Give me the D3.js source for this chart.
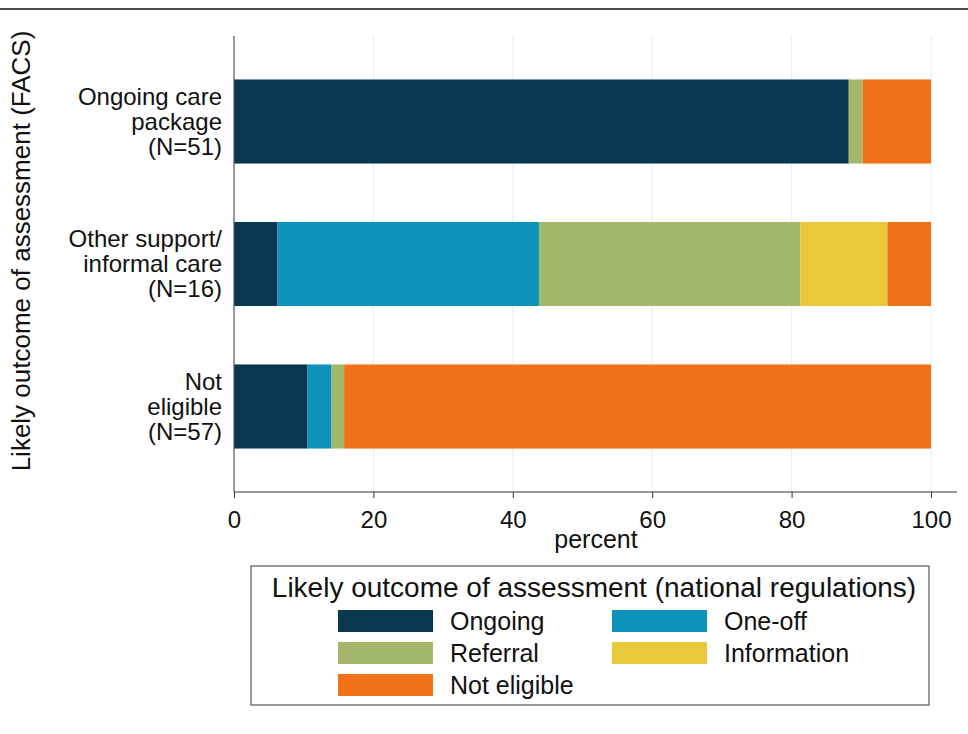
<!DOCTYPE html>
<html>
<head>
<meta charset="utf-8">
<script src="https://cdn.jsdelivr.net/npm/d3@7"></script>
<style>
  body { margin: 0; background: #fff; }
  svg { font-family: "Liberation Sans", Arial, sans-serif; }
</style>
</head>
<body>
<svg id="chart" width="968" height="734"></svg>
<script>
// categories (top to bottom) with their label lines
const categories = ["Ongoing care package", "Other support/informal care", "Not eligible"];
const categoryLines = [
    ["Ongoing care", "package", "(N=51)"],
    ["Other support/", "informal care", "(N=16)"],
    ["Not", "eligible", "(N=57)"]
];
const outcomes = ["Ongoing", "One-off", "Referral", "Information", "Not eligible"];
const outcomeColors = ["#08374f", "#0e93ba", "#a3b86a", "#e9c939", "#f07118"];

// percent per outcome, one array per category
const ongoing     = [88.2, 6.25, 10.5];
const oneOff      = [0, 37.5, 3.5];
const referral    = [2.0, 37.5, 1.8];
const information = [0, 12.5, 0];
const notEligible = [9.8, 6.25, 84.2];

const xTicks = [0, 20, 40, 60, 80, 100];

const svg = d3.select("#chart");
const margin = { top: 36, right: 37, bottom: 242, left: 234 };
const width = 968, height = 734;

// top rule
svg.append("line")
    .attr("x1", 0).attr("x2", width)
    .attr("y1", 9).attr("y2", 9)
    .attr("stroke", "#111").attr("stroke-width", 1.5);

const x = d3.scaleLinear()
    .domain([0, 100])
    .range([margin.left, 931]);

const y = d3.scaleBand()
    .domain(categories)
    .range([margin.top, height - margin.bottom])
    .paddingInner(0.41)
    .paddingOuter(0.305);

const rows = categories.map((c, i) => ({
    category: c,
    "Ongoing": ongoing[i],
    "One-off": oneOff[i],
    "Referral": referral[i],
    "Information": information[i],
    "Not eligible": notEligible[i]
}));

const stack = d3.stack().keys(outcomes)(rows);
const color = d3.scaleOrdinal().domain(outcomes).range(outcomeColors);

// gridlines
svg.append("g")
    .selectAll("line")
    .data(xTicks.filter(d => d > 0))
    .join("line")
    .attr("x1", d => x(d)).attr("x2", d => x(d))
    .attr("y1", margin.top).attr("y2", height - margin.bottom)
    .attr("stroke", "#e4eef2").attr("stroke-width", 1);

// bars
svg.append("g")
    .selectAll("g")
    .data(stack)
    .join("g")
    .attr("fill", d => color(d.key))
    .selectAll("rect")
    .data(d => d)
    .join("rect")
    .attr("x", d => x(d[0]))
    .attr("y", d => y(d.data.category))
    .attr("width", d => x(d[1]) - x(d[0]))
    .attr("height", y.bandwidth());

// x axis
const xAxis = svg.append("g")
    .attr("transform", `translate(0,${height - margin.bottom})`)
    .call(d3.axisBottom(x).tickValues(xTicks).tickSize(6).tickSizeOuter(0));
xAxis.select(".domain").attr("stroke", "#333").attr("d", `M${margin.left},0H957`);
xAxis.selectAll(".tick line").attr("stroke", "#333");
xAxis.selectAll(".tick text")
    .attr("y", 36).attr("dy", 0)
    .attr("font-size", 24)
    .attr("font-family", "Liberation Sans, Arial, sans-serif")
    .attr("fill", "#111");

svg.append("text")
    .attr("x", 596).attr("y", 548)
    .attr("text-anchor", "middle")
    .attr("font-size", 25)
    .attr("fill", "#111")
    .text("percent");

// y axis
svg.append("line")
    .attr("x1", margin.left).attr("x2", margin.left)
    .attr("y1", margin.top).attr("y2", height - margin.bottom)
    .attr("stroke", "#555").attr("stroke-width", 1.2);

const yLabels = svg.append("g")
    .selectAll("text")
    .data(categories)
    .join("text")
    .attr("text-anchor", "end")
    .attr("font-size", 24)
    .attr("fill", "#111");
yLabels.each(function(d, i) {
    const cy = y(d) + y.bandwidth() / 2;
    d3.select(this).selectAll("tspan")
        .data(categoryLines[i])
        .join("tspan")
        .attr("x", 222)
        .attr("y", (t, j) => cy + (j - 1) * 25 + 8)
        .text(t => t);
});

svg.append("text")
    .attr("transform", "translate(30,251) rotate(-90)")
    .attr("text-anchor", "middle")
    .attr("font-size", 26)
    .attr("fill", "#111")
    .text("Likely outcome of assessment (FACS)");

// legend
const legend = svg.append("g");
legend.append("rect")
    .attr("x", 251).attr("y", 566)
    .attr("width", 678).attr("height", 139)
    .attr("fill", "#fff").attr("stroke", "#555").attr("stroke-width", 1.2);
legend.append("text")
    .attr("x", 594).attr("y", 597)
    .attr("text-anchor", "middle")
    .attr("font-size", 28)
    .attr("fill", "#111")
    .text("Likely outcome of assessment (national regulations)");

const legendItems = legend.selectAll("g.item")
    .data(outcomes)
    .join("g")
    .attr("class", "item")
    .attr("transform", (d, i) => `translate(${i % 2 === 0 ? 338 : 612},${610 + Math.floor(i / 2) * 32})`);
legendItems.append("rect")
    .attr("width", 95).attr("height", 22)
    .attr("fill", d => color(d));
legendItems.append("text")
    .attr("x", 112).attr("y", 20)
    .attr("font-size", 25)
    .attr("fill", "#111")
    .text(d => d);
</script>
</body>
</html>
